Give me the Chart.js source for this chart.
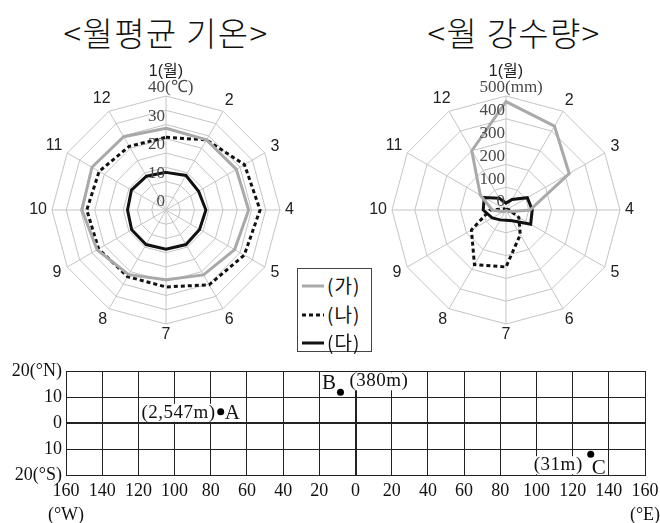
<!DOCTYPE html>
<html><head><meta charset="utf-8">
<script src="https://cdn.jsdelivr.net/npm/chart.js@4.4.1/dist/chart.umd.min.js"></script>
<style>
html,body{margin:0;padding:0;background:#fff;}
#wrap{position:relative;width:660px;height:523px;overflow:hidden;background:#fff;}
.title{position:absolute;top:8px;font-family:"Noto Sans CJK KR",sans-serif;font-weight:300;font-size:33px;letter-spacing:1.3px;color:#111;text-align:center;width:330px;white-space:nowrap;}
canvas{position:absolute;}
#legend{position:absolute;left:297px;top:268px;width:75px;height:84px;border:1px solid #444;background:#fff;box-sizing:border-box;}
.li{position:absolute;left:3px;height:28px;width:70px;}
.li svg{position:absolute;left:0;top:12px;}
.li span{position:absolute;left:26px;top:0;font-family:"Noto Sans CJK KR",sans-serif;font-size:19px;letter-spacing:1px;line-height:28px;color:#111;}
</style></head><body>
<div id="wrap">
<div class="title" id="t1" style="left:1px">&lt;월평균 기온&gt;</div>
<div class="title" id="t2" style="left:349px">&lt;월 강수량&gt;</div>
<canvas id="c1" width="330" height="355" style="left:0;top:0"></canvas>
<canvas id="c2" width="330" height="355" style="left:330px;top:0"></canvas>
<canvas id="c3" width="660" height="168" style="left:0;top:355px"></canvas>
<div id="legend"></div>
</div>
<script>
// ---- data ----
const months = ['1(월)','2','3','4','5','6','7','8','9','10','11','12'];
const seriesNames = ['(가)','(나)','(다)'];
const tempGa = [28.7, 28.4, 28.5, 29.0, 27.8, 26.3, 24.5, 26.2, 27.9, 29.5, 30.0, 29.7];
const tempNa = [25.5, 28.4, 31.8, 33.0, 31.7, 30.3, 27.0, 27.0, 27.3, 27.8, 27.1, 25.8];
const tempDa = [13.2, 14.0, 13.2, 14.0, 13.6, 14.0, 13.8, 14.0, 13.9, 13.5, 14.0, 13.7];
const rainGa = [475, 425, 320, 105, 15, 3, 2, 5, 15, 60, 130, 300];
const rainNa = [0, 1, 5, 15, 65, 125, 250, 277, 175, 70, 10, 0];
const rainDa = [30, 53, 108, 115, 125, 55, 45, 50, 70, 100, 110, 60];
const tempTicks = [0, 10, 20, 30, 40];
const rainTicks = [0, 100, 200, 300, 400, 500];
const lonTicks = [-160,-140,-120,-100,-80,-60,-40,-20,0,20,40,60,80,100,120,140,160];
const lonLabels = [['160','(°W)'],'140','120','100','80','60','40','20','0','20','40','60','80','100','120','140',['160','(°E)']];
const latTicks = [-20,-10,0,10,20];
const latLabels = ['20(°S)','10','0','10','20(°N)'];
const stationNames = ['A','B','C'];
const stationLon = [-74.5, -8.3, 130];
const stationLat = [4.3, 11.8, -12];
const stationElev = ['(2,547m)','(380m)','(31m)'];

// ---- styles ----
const GRAY = '#a9a9a9', BLACK = '#111';
const seriesStyle = [
  {borderColor: GRAY, borderWidth: 3, borderDash: []},
  {borderColor: BLACK, borderWidth: 3, borderDash: [4, 3]},
  {borderColor: BLACK, borderWidth: 3, borderDash: []}
];

function makeDatasets(arrs) {
  return arrs.map((d, i) => Object.assign({
    label: seriesNames[i], data: d, fill: false, pointRadius: 0, tension: 0,
    borderCapStyle: 'butt', borderJoinStyle: 'miter'
  }, seriesStyle[i]));
}

function radarText(tickVals, unit) {
  return {
    id: 'radarText',
    afterDraw(chart) {
      const s = chart.scales.r, ctx = chart.ctx;
      ctx.save();
      ctx.font = '16px "Liberation Sans", "Noto Sans CJK KR", sans-serif';
      ctx.fillStyle = '#222'; ctx.textAlign = 'center'; ctx.textBaseline = 'middle';
      chart.data.labels.forEach((lab, i) => {
        const w = ctx.measureText(lab).width, h = 12;
        const a = s.getIndexAngle(i);
        const ext = Math.abs(Math.sin(a)) * w / 2 + Math.abs(Math.cos(a)) * h / 2;
        const d = s.drawingArea + (i === 0 ? 18 : 5) + ext;
        const p = s.getPointPosition(i, d);
        ctx.fillText(lab, p.x, p.y);
      });
      ctx.font = '17px "Liberation Serif", serif';
      ctx.fillStyle = '#484848';
      tickVals.forEach((v, k) => {
        const y = s.yCenter - s.getDistanceFromCenterForValue(v) - 8;
        ctx.textAlign = 'right';
        ctx.fillText(String(v), s.xCenter - 1, y);
        if (k === tickVals.length - 1) {
          ctx.textAlign = 'left';
          ctx.fillText(unit, s.xCenter - 1, y);
        }
      });
      ctx.restore();
    }
  };
}

function radarOptions(max, step, pad) {
  return {
    responsive: false, animation: false,
    layout: {padding: pad},
    plugins: {legend: {display: false}, tooltip: {enabled: false}},
    scales: {
      r: {
        min: 0, max: max,
        ticks: {stepSize: step, display: false},
        grid: {color: '#c4c4c4', lineWidth: 1, circular: false},
        angleLines: {color: '#c4c4c4', lineWidth: 1},
        pointLabels: {display: false}
      }
    }
  };
}

new Chart(document.getElementById('c1'), {
  type: 'radar',
  data: {labels: months, datasets: makeDatasets([tempGa, tempNa, tempDa])},
  options: radarOptions(40, 5, {left: 52, right: 50, top: 96, bottom: 31}),
  plugins: [radarText(tempTicks, '(℃)')]
});

new Chart(document.getElementById('c2'), {
  type: 'radar',
  data: {labels: months, datasets: makeDatasets([rainGa, rainNa, rainDa])},
  options: radarOptions(500, 100, {left: 62, right: 40, top: 96, bottom: 31}),
  plugins: [radarText(rainTicks, '(mm)')]
});

// legend
const lg = document.getElementById('legend');
seriesNames.forEach((n, i) => {
  const st = seriesStyle[i];
  const div = document.createElement('div');
  div.className = 'li';
  div.style.top = (2 + i * 28.5) + 'px';
  div.innerHTML = '<svg width="24" height="6"><line x1="1" y1="3" x2="23" y2="3" stroke="' + st.borderColor +
    '" stroke-width="' + st.borderWidth + '" stroke-dasharray="' + (st.borderDash.length ? st.borderDash.join(',') : 'none') +
    '"/></svg><span>' + n + '</span>';
  lg.appendChild(div);
});

// scatter map
const stationLabelLayout = [
  {elev: [-5, 1, 'right'], name: [4, 2, 'left']},
  {elev: [9, -11, 'left'], name: [-4, -9, 'right']},
  {elev: [-8, 11, 'right'], name: [1, 14, 'left']}
];
const stationText = {
  id: 'stationText',
  afterDatasetsDraw(chart) {
    const xs = chart.scales.x, ys = chart.scales.y, ctx = chart.ctx;
    ctx.save();
    ctx.textBaseline = 'middle';
    ctx.letterSpacing = '0.5px';
    stationNames.forEach((n, i) => {
      const px = xs.getPixelForValue(stationLon[i]), py = ys.getPixelForValue(stationLat[i]);
      const L = stationLabelLayout[i];
      ctx.font = '19px "Liberation Serif", serif';
      const tx = px + L.elev[0], ty = py + L.elev[1];
      const w = ctx.measureText(stationElev[i]).width;
      const x0 = L.elev[2] === 'right' ? tx - w : tx;
      ctx.fillStyle = '#fff';
      ctx.fillRect(x0 - 1, ty - 9, w + 2, 18);
      ctx.fillStyle = '#111';
      ctx.textAlign = L.elev[2]; ctx.fillText(stationElev[i], tx, ty);
      ctx.font = '21px "Liberation Serif", serif';
      ctx.textAlign = L.name[2]; ctx.fillText(n, px + L.name[0], py + L.name[1]);
    });
    ctx.restore();
  }
};

const zeroWidth = c => (c.tick && c.tick.value === 0 ? 2 : 1);
new Chart(document.getElementById('c3'), {
  type: 'scatter',
  data: {datasets: [{
    data: stationLon.map((x, i) => ({x: x, y: stationLat[i]})),
    pointRadius: 3.5, backgroundColor: '#000', borderColor: '#000', borderWidth: 0
  }]},
  options: {
    responsive: false, animation: false,
    layout: {padding: {left: 0, right: 15, top: 16, bottom: 0}},
    plugins: {legend: {display: false}, tooltip: {enabled: false}},
    scales: {
      x: {
        type: 'linear', min: -160, max: 160,
        ticks: {stepSize: 20, autoSkip: false, maxRotation: 0, padding: 5, color: '#111',
          font: {family: '"Liberation Serif", serif', size: 18, lineHeight: 1.3},
          callback: v => lonLabels[lonTicks.indexOf(v)]},
        grid: {color: '#222', lineWidth: zeroWidth, drawTicks: false},
        border: {display: true, color: '#222', width: 1},
        afterFit: s => { s.height = 48; s.paddingLeft = 0; s.paddingRight = 0; }
      },
      y: {
        type: 'linear', min: -20, max: 20,
        ticks: {stepSize: 10, padding: 4, color: '#111',
          font: {family: '"Liberation Serif", serif', size: 18},
          callback: v => latLabels[latTicks.indexOf(v)]},
        grid: {color: '#222', lineWidth: zeroWidth, drawTicks: false},
        border: {display: true, color: '#222', width: 1},
        afterFit: s => { s.width = 66; s.paddingTop = 0; s.paddingBottom = 0; }
      }
    }
  },
  plugins: [stationText]
});
</script>
</body></html>
